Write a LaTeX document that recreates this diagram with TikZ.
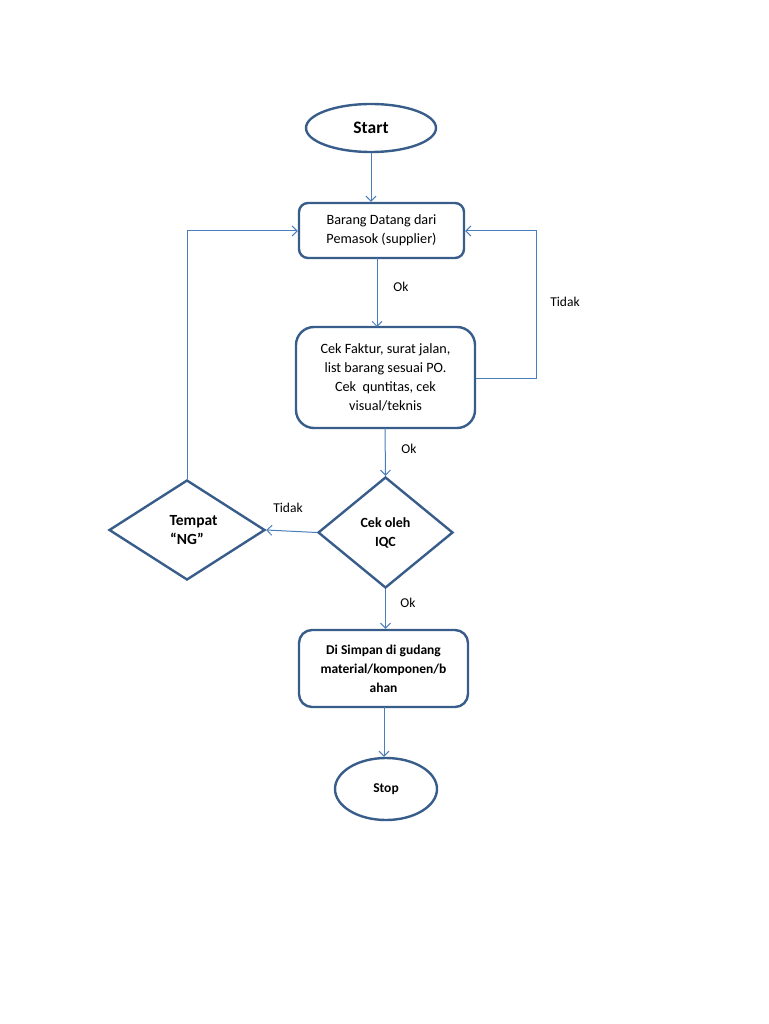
\documentclass[tikz,border=0pt]{standalone}
\usepackage{fontspec}
\setmainfont{Carlito}
\usetikzlibrary{shapes.geometric,arrows.meta}
\definecolor{shapeblue}{HTML}{385D8A}
\definecolor{lineblue}{HTML}{4A7EBB}
\tikzset{
  base/.style={draw=shapeblue, line width=2.4pt, font=\fontsize{14.2}{19}\selectfont, align=center, inner sep=0pt, text=black},
  term/.style={base, ellipse},
  proc/.style={base, rectangle},
  dec/.style={base, diamond},
  conn/.style={draw=lineblue, line width=1pt, -{Straight Barb[length=5pt,width=10pt]}},
  lbl/.style={font=\fontsize{13.5}{15}\selectfont, inner sep=0pt}
}
\begin{document}
\begin{tikzpicture}[x=1pt,y=-1pt]
\useasboundingbox (0,0) rectangle (768,1024);
\node[term, minimum width=130pt, minimum height=48pt, font=\fontsize{17.5}{20}\selectfont\bfseries] (start) at (371,128) {Start};
\node[proc, minimum width=165pt, minimum height=55pt, rounded corners=9pt] (p1) at (381.5,230.5) {Barang Datang dari\\Pemasok (supplier)};
\node[proc, minimum width=179pt, minimum height=101pt, rounded corners=18pt] (p2) at (385.5,377.5) {Cek Faktur, surat jalan,\\list barang sesuai PO.\\Cek\ \ quntitas, cek\\visual/teknis};
\node[dec, minimum width=135pt, minimum height=111pt, font=\fontsize{14}{19}\selectfont\bfseries] (iqc) at (385.5,532.5) {Cek oleh\\IQC};
\node[dec, minimum width=156pt, minimum height=100pt, font=\fontsize{15.5}{19}\selectfont\bfseries] (ng) at (187,530) {\hspace*{13pt}Tempat\\``NG''};
\node[proc, minimum width=169pt, minimum height=77pt, rounded corners=13pt, font=\fontsize{13.5}{19}\selectfont\bfseries] (p3) at (383.5,668.5) {Di Simpan di gudang\\material/komponen/b\\ahan};
\node[term, minimum width=102pt, minimum height=62pt, font=\fontsize{13.5}{19}\selectfont\bfseries] (stop) at (386,789) {Stop};

\coordinate (r1) at (536,378);
\coordinate (r2) at (536,231);
\coordinate (l1) at (185,231);

\draw[conn] (start.south) -- (start.south |- p1.north);
\draw[conn] (377,258) -- (377,327);
\draw[conn] (385,428) -- (iqc.north);
\draw[conn] (p2.east |- r1) -- (r1) -- (r2) -- (p1.east |- r2);
\draw[conn] (iqc.west) -- (ng.east);
\draw[conn] (ng.north) -- (ng.north |- l1) -- (p1.west |- l1);
\draw[conn] (iqc.south) -- (iqc.south |- p3.north);
\draw[conn] (384,707) -- (stop.north -| 384,0);

\node[lbl] (ok1) at (401,287) {Ok};
\node[lbl] (tidak1) at (565,302) {Tidak};
\node[lbl] (ok2) at (409,449) {Ok};
\node[lbl] (tidak2) at (288,508) {Tidak};
\node[lbl] (ok3) at (408,603) {Ok};
\end{tikzpicture}
\end{document}
